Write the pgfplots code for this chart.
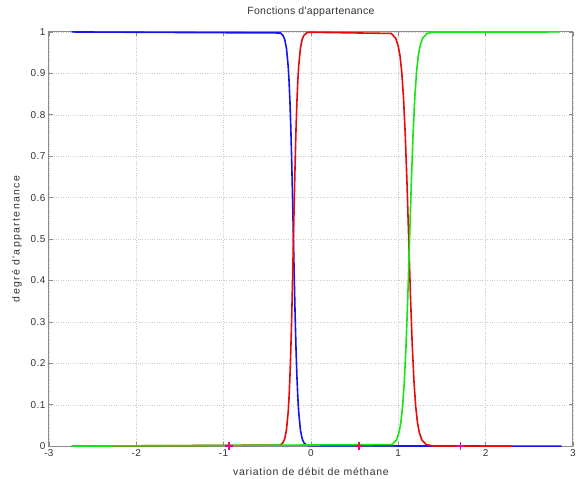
\documentclass[border=0pt]{standalone}
\usepackage{pgfplots}
\pgfplotsset{compat=1.18}
\usepackage{fontspec}
\setmainfont{Liberation Sans}
\newfontfamily\ticfont[LetterSpace=4]{Liberation Sans}
\newfontfamily\titfont[LetterSpace=3]{Liberation Sans}
\newfontfamily\xlfont[LetterSpace=7]{Liberation Sans}
\newfontfamily\ylfont[LetterSpace=13]{Liberation Sans}
\definecolor{mblue}{RGB}{20,20,235}
\definecolor{mred}{RGB}{230,10,10}
\definecolor{mgreen}{RGB}{20,230,20}
\definecolor{axgray}{RGB}{140,140,140}
\begin{document}
\begin{tikzpicture}
\begin{axis}[
  scale only axis,
  width=525pt, height=415pt,
  xmin=-3, xmax=3, ymin=0, ymax=1,
  xtick={-3,-2,-1,0,1,2,3},
  ytick={0,0.1,0.2,0.3,0.4,0.5,0.6,0.7,0.8,0.9,1},
  yticklabels={0,0.1,0.2,0.3,0.4,0.5,0.6,0.7,0.8,0.9,1},
  xticklabels={-3,-2,-1,0,1,2,3},
  grid=major,
  major grid style={dotted, gray!40, line width=0.4pt},
  axis line style={axgray, line width=0.9pt},
  tick style={axgray, line width=0.6pt},
  major tick length=4pt,
  tick align=inside,
  tick label style={font=\ticfont\fontsize{10}{12}\selectfont, text=black!80},
  /pgf/number format/assume math mode=true,
  title={Fonctions d'appartenance},
  title style={font=\titfont\fontsize{10.5}{12}\selectfont, at={(axis description cs:0.5,1.035)}, anchor=center, text=black!80},
  xlabel={variation de débit de méthane},
  ylabel={degré d'appartenance},
  xlabel style={font=\xlfont\fontsize{10.5}{12}\selectfont, at={(axis description cs:0.5,-0.0615)}, anchor=center, text=black!80},
  ylabel style={font=\ylfont\fontsize{10.5}{12}\selectfont, at={(axis description cs:-0.061,0.5)}, anchor=center, rotate=0, text=black!80},
  clip=false,
]
\addplot[mblue, line width=1.6pt] coordinates {
(-2.74,1) (-0.35,0.9975) (-0.32,0.9918) (-0.30,0.982) (-0.28,0.961) (-0.26,0.917) (-0.25,0.881) (-0.24,0.832) (-0.23,0.769) (-0.22,0.690) (-0.21,0.599) (-0.20,0.5) (-0.19,0.401) (-0.18,0.310) (-0.17,0.231) (-0.16,0.168) (-0.15,0.119) (-0.14,0.083) (-0.12,0.039) (-0.10,0.018) (-0.08,0.0082) (-0.05,0.0025) (-0.02,0.0007) (2.87,0)
};
\addplot[mred, line width=1.6pt] coordinates {
(-2.74,0) (-0.35,0.0025) (-0.32,0.0082) (-0.30,0.018) (-0.28,0.039) (-0.26,0.083) (-0.25,0.119) (-0.24,0.168) (-0.23,0.231) (-0.22,0.310) (-0.21,0.401) (-0.20,0.5) (-0.19,0.599) (-0.18,0.690) (-0.17,0.769) (-0.16,0.832) (-0.15,0.881) (-0.14,0.917) (-0.12,0.961) (-0.10,0.982) (-0.08,0.9918) (-0.05,0.9975) (-0.02,0.9993) (0.92,0.9963) (0.97,0.985) (1.00,0.966) (1.02,0.943) (1.04,0.904) (1.06,0.843) (1.08,0.754) (1.10,0.637) (1.12,0.5) (1.14,0.363) (1.16,0.246) (1.18,0.157) (1.20,0.096) (1.22,0.057) (1.24,0.034) (1.27,0.015) (1.32,0.0037) (1.40,0.0004) (2.30,0)
};
\addplot[mgreen, line width=1.6pt] coordinates {
(-2.74,0) (0.93,0.0037) (0.98,0.015) (1.01,0.034) (1.03,0.057) (1.05,0.096) (1.07,0.157) (1.09,0.246) (1.11,0.363) (1.13,0.5) (1.15,0.637) (1.17,0.754) (1.19,0.843) (1.21,0.904) (1.23,0.943) (1.25,0.966) (1.28,0.985) (1.33,0.9963) (1.40,0.9996) (2.85,1)
};
\addplot[magenta, only marks, mark=+, mark size=4pt, line width=1.4pt] coordinates {
(-0.94,0) (0.55,0) (1.71,0)
};
\end{axis}
\path (current axis.south west) ++(-49pt,-32pt) coordinate (bbl);
\path (current axis.north east) ++(5pt,32pt) coordinate (btr);
\path (bbl) rectangle (btr);
\end{tikzpicture}
\end{document}
